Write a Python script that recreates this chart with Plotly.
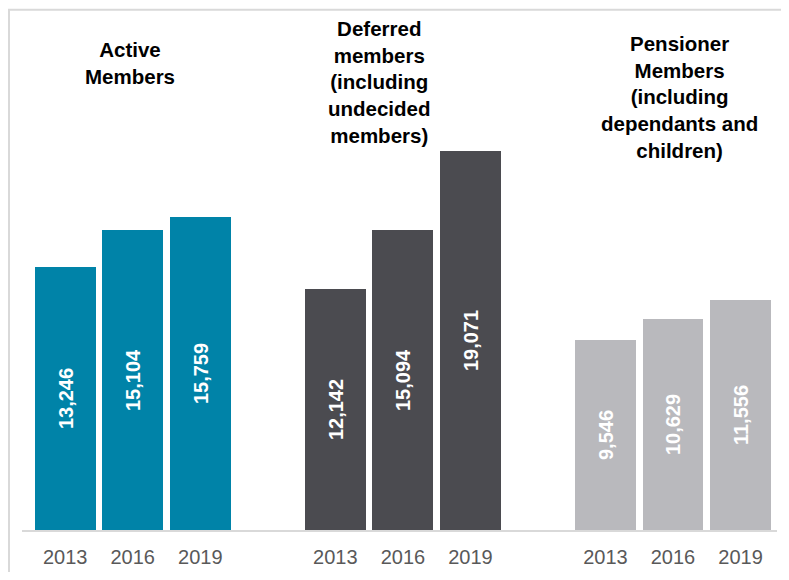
import plotly.graph_objects as go

# ── Data ─────────────────────────────────────────────────────────────────────
YEARS = ["2013", "2016", "2019"]
GROUPS = [
    "Active<br>Members",
    "Deferred<br>members<br>(including<br>undecided<br>members)",
    "Pensioner<br>Members<br>(including<br>dependants and<br>children)",
]
ACTIVE = [13246, 15104, 15759]
DEFERRED = [12142, 15094, 19071]
PENSIONER = [9546, 10629, 11556]

COLORS = ["#0083A8", "#4B4B50", "#B9B9BD"]
SERIES = [ACTIVE, DEFERRED, PENSIONER]

# group slots: 3 bars per group, one empty slot between groups
SLOT = 4

fig = go.Figure()
tickvals, ticktext = [], []
for g, (vals, color) in enumerate(zip(SERIES, COLORS)):
    xs = [g * SLOT + i for i in range(len(YEARS))]
    tickvals += xs
    ticktext += YEARS
    fig.add_trace(go.Bar(
        x=xs, y=vals,
        marker=dict(color=color, line=dict(width=0)),
        width=0.9,
        text=[f"{v:,}" for v in vals],
        textposition="inside",
        insidetextanchor="middle",
        textangle=-90,
        textfont=dict(family="Liberation Sans", size=20, color="white", weight="bold"),
        showlegend=False,
        hoverinfo="skip",
    ))

# group titles
title_pos = [(0.96, 0.94), (4.66, 0.902), (9.10, 0.871)]
for label, (x, y) in zip(GROUPS, title_pos):
    fig.add_annotation(
        x=x, y=y, xref="x", yref="paper",
        text=f"<b>{label}</b>", showarrow=False,
        xanchor="center", yanchor="middle",
        font=dict(family="Liberation Sans", size=20.5, color="#000000"),
    )

# light frame around the chart (right/bottom edges fall outside the view)
fig.add_shape(
    type="rect", xref="paper", yref="paper",
    x0=-13 / 755, y0=-0.2, x1=1.2, y1=1 + 24 / 511,
    line=dict(color="#D9D9D9", width=2), layer="below",
)

fig.update_layout(
    width=773, height=564,
    paper_bgcolor="white",
    plot_bgcolor="white",
    margin=dict(l=14, r=4, t=25, b=28),
    xaxis=dict(
        range=[-0.64, 10.54],
        tickvals=tickvals, ticktext=ticktext,
        showgrid=False, zeroline=False,
        showline=True, linecolor="#D9D9D9", linewidth=2,
        ticks="", ticklabelstandoff=8,
        tickfont=dict(family="Liberation Sans", size=20, color="#595959"),
    ),
    yaxis=dict(range=[0, 25000], visible=False, showgrid=False, zeroline=False),
    bargap=0,
)

fig.write_html("out.html")
